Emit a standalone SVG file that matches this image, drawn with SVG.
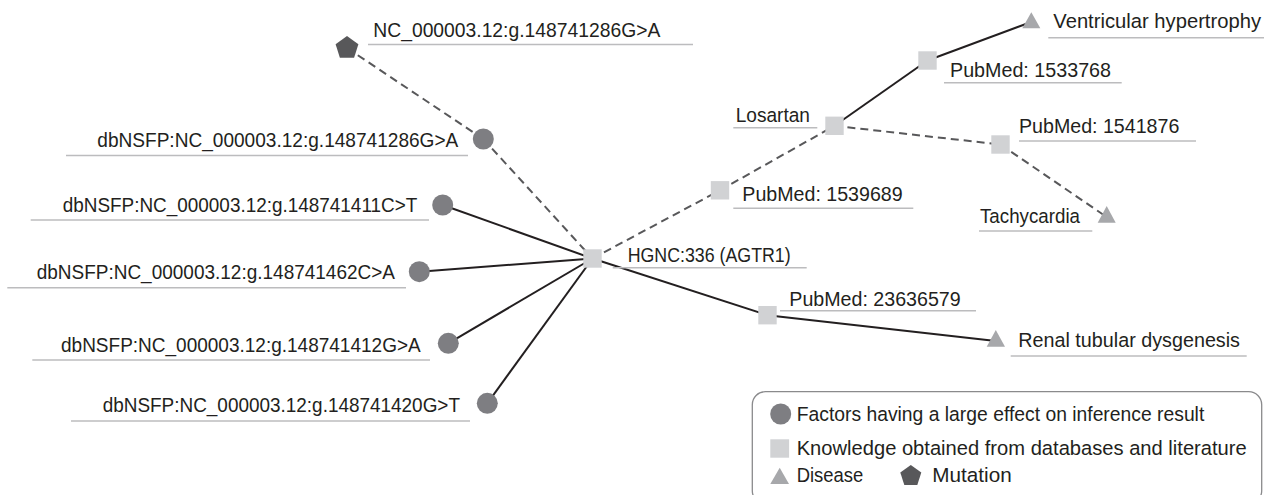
<svg xmlns="http://www.w3.org/2000/svg" width="1271" height="495" viewBox="0 0 1271 495">
<style>
text{font-family:"Liberation Sans",Arial,sans-serif;font-size:20.5px;fill:#231f20}
.ul{stroke:#bcbcbe;stroke-width:1.6}
.solid{stroke:#231f20;stroke-width:2;fill:none}
.dash{stroke:#58585a;stroke-width:2;fill:none;stroke-dasharray:8 5}
.circ{fill:#7e7e82}
.sq{fill:#d1d2d4}
.tri{fill:#a7a8ab}
.pent{fill:#58585a}
</style>
<rect width="1271" height="495" fill="#ffffff"/>
<g id="connectors">
<line class="dash" x1="347" y1="48" x2="483.3" y2="139"/>
<line class="dash" x1="483.3" y1="139" x2="592.5" y2="258.5"/>
<line class="solid" x1="442.7" y1="205" x2="592.5" y2="258.5"/>
<line class="solid" x1="419.3" y1="271.7" x2="592.5" y2="258.5"/>
<line class="solid" x1="448.3" y1="343.3" x2="592.5" y2="258.5"/>
<line class="solid" x1="487.3" y1="403.3" x2="592.5" y2="258.5"/>
<line class="dash" x1="592.5" y1="258.5" x2="720" y2="190.3"/>
<line class="dash" x1="720" y1="190.3" x2="834.5" y2="125.8"/>
<line class="solid" x1="834.5" y1="125.8" x2="927.5" y2="60.5"/>
<line class="solid" x1="927.5" y1="60.5" x2="1031.3" y2="22"/>
<line class="dash" x1="834.5" y1="125.8" x2="1000.5" y2="144.5"/>
<line class="dash" x1="1000.5" y1="144.5" x2="1106.7" y2="217"/>
<line class="solid" x1="592.5" y1="258.5" x2="767.5" y2="315.2"/>
<line class="solid" x1="767.5" y1="315.2" x2="995.8" y2="341"/>
</g>
<g id="mutation">
<polygon class="pent" points="347,36 358.4,44.3 354.1,57.7 339.9,57.7 335.6,44.3"/>
<line class="ul" x1="368" y1="44.5" x2="693" y2="44.5"/>
<text x="373.3" y="36.7" textLength="287" lengthAdjust="spacingAndGlyphs">NC_000003.12:g.148741286G&gt;A</text>
</g>
<g id="v286">
<circle class="circ" cx="483.3" cy="139" r="10.5"/>
<line class="ul" x1="66" y1="155.5" x2="468" y2="155.5"/>
<text x="97.3" y="147.3" textLength="361" lengthAdjust="spacingAndGlyphs">dbNSFP:NC_000003.12:g.148741286G&gt;A</text>
</g>
<g id="v411">
<circle class="circ" cx="442.7" cy="205" r="10.5"/>
<line class="ul" x1="30.7" y1="220" x2="429" y2="220"/>
<text x="62.7" y="212.3" textLength="354.6" lengthAdjust="spacingAndGlyphs">dbNSFP:NC_000003.12:g.148741411C&gt;T</text>
</g>
<g id="v462">
<circle class="circ" cx="419.3" cy="271.7" r="10.5"/>
<line class="ul" x1="7.3" y1="287.7" x2="406" y2="287.7"/>
<text x="36.7" y="279.3" textLength="358.3" lengthAdjust="spacingAndGlyphs">dbNSFP:NC_000003.12:g.148741462C&gt;A</text>
</g>
<g id="v412">
<circle class="circ" cx="448.3" cy="343.3" r="10.5"/>
<line class="ul" x1="32.3" y1="360" x2="430" y2="360"/>
<text x="61" y="351.7" textLength="359.7" lengthAdjust="spacingAndGlyphs">dbNSFP:NC_000003.12:g.148741412G&gt;A</text>
</g>
<g id="v420">
<circle class="circ" cx="487.3" cy="403.3" r="10.5"/>
<line class="ul" x1="71" y1="421" x2="470" y2="421"/>
<text x="102.7" y="411.7" textLength="357.3" lengthAdjust="spacingAndGlyphs">dbNSFP:NC_000003.12:g.148741420G&gt;T</text>
</g>
<g id="hgnc">
<rect class="sq" x="583.3" y="249.3" width="18.4" height="18.4"/>
<line class="ul" x1="612.7" y1="267.7" x2="806.7" y2="267.7"/>
<text x="627.7" y="261.7" textLength="163" lengthAdjust="spacingAndGlyphs">HGNC:336 (AGTR1)</text>
</g>
<g id="pm1539689">
<rect class="sq" x="710.8" y="181.1" width="18.4" height="18.4"/>
<line class="ul" x1="733.3" y1="208.3" x2="913.3" y2="208.3"/>
<text x="742.3" y="200.7" textLength="160.4" lengthAdjust="spacingAndGlyphs">PubMed: 1539689</text>
</g>
<g id="losartan">
<rect class="sq" x="825.3" y="116.6" width="18.4" height="18.4"/>
<line class="ul" x1="733.3" y1="127.7" x2="817.3" y2="127.7"/>
<text x="735.7" y="121.7" textLength="74.3" lengthAdjust="spacingAndGlyphs">Losartan</text>
</g>
<g id="pm1533768">
<rect class="sq" x="918.3" y="51.3" width="18.4" height="18.4"/>
<line class="ul" x1="944" y1="82.7" x2="1121.7" y2="82.7"/>
<text x="950" y="77.3" textLength="161" lengthAdjust="spacingAndGlyphs">PubMed: 1533768</text>
</g>
<g id="ventricular">
<polygon class="tri" points="1031.3,12.3 1040.3,28.3 1022.3,28.3"/>
<line class="ul" x1="1048.3" y1="37.7" x2="1264" y2="37.7"/>
<text x="1053.3" y="28.3" textLength="207.7" lengthAdjust="spacingAndGlyphs">Ventricular hypertrophy</text>
</g>
<g id="pm1541876">
<rect class="sq" x="991.3" y="135.3" width="18.4" height="18.4"/>
<line class="ul" x1="1019" y1="141" x2="1196" y2="141"/>
<text x="1019" y="133.3" textLength="160.3" lengthAdjust="spacingAndGlyphs">PubMed: 1541876</text>
</g>
<g id="tachycardia">
<polygon class="tri" points="1106.7,206 1115.7,222.7 1097.7,222.7"/>
<line class="ul" x1="979" y1="231" x2="1092.3" y2="231"/>
<text x="980" y="222.7" textLength="100" lengthAdjust="spacingAndGlyphs">Tachycardia</text>
</g>
<g id="pm23636579">
<rect class="sq" x="758.3" y="306" width="18.4" height="18.4"/>
<line class="ul" x1="780" y1="310.7" x2="976" y2="310.7"/>
<text x="789.3" y="306" textLength="171.4" lengthAdjust="spacingAndGlyphs">PubMed: 23636579</text>
</g>
<g id="renal">
<polygon class="tri" points="995.8,330 1005,346.7 986.7,346.7"/>
<line class="ul" x1="1010.7" y1="356" x2="1246.7" y2="356"/>
<text x="1018.3" y="346.7" textLength="221.7" lengthAdjust="spacingAndGlyphs">Renal tubular dysgenesis</text>
</g>
<g id="legend">
<rect x="752.3" y="391.7" width="509.4" height="112" rx="13" ry="13" fill="#ffffff" stroke="#8a8a8c" stroke-width="1.3"/>
<circle class="circ" cx="780.7" cy="414" r="10.5"/>
<text x="796.7" y="421" textLength="407.6" lengthAdjust="spacingAndGlyphs">Factors having a large effect on inference result</text>
<rect class="sq" x="770.3" y="439.3" width="18.8" height="18.4"/>
<text x="796.7" y="455" textLength="450" lengthAdjust="spacingAndGlyphs">Knowledge obtained from databases and literature</text>
<polygon class="tri" points="779.7,467.7 789,484 770.3,484"/>
<text x="796.7" y="481.7" textLength="66.6" lengthAdjust="spacingAndGlyphs">Disease</text>
<polygon class="pent" points="910.8,465 921.3,472.6 917.3,484.9 904.3,484.9 900.3,472.6"/>
<text x="932.3" y="481.7" textLength="79.4" lengthAdjust="spacingAndGlyphs">Mutation</text>
</g>
</svg>
